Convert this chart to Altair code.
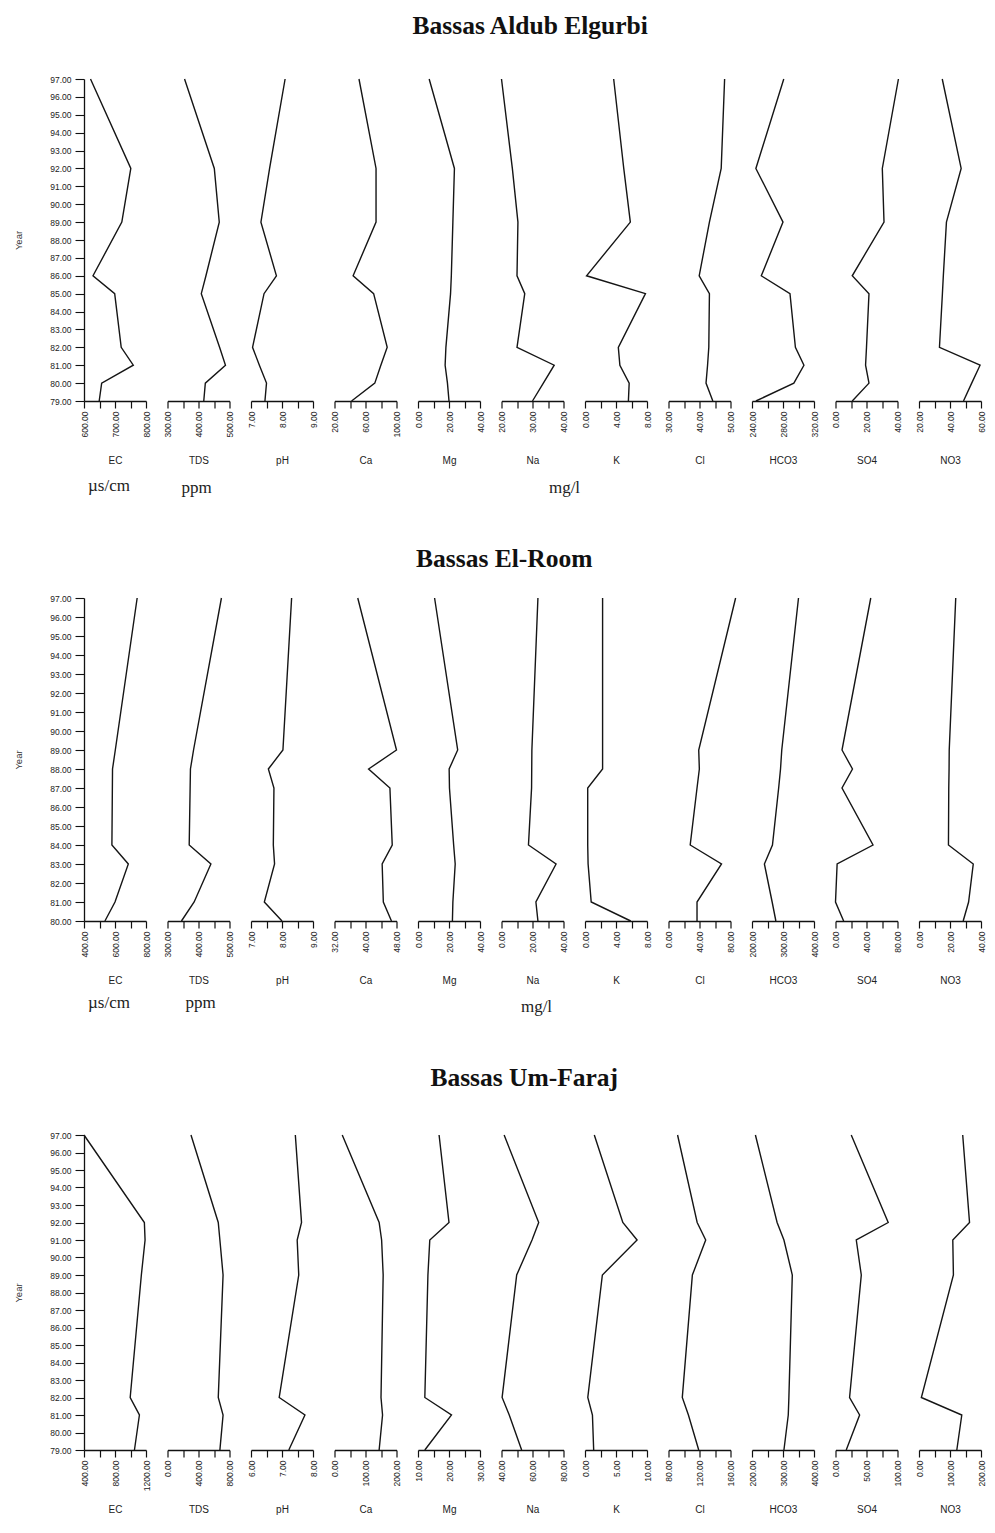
import altair as alt
import pandas as pd

PARAMS = ["EC", "TDS", "pH", "Ca", "Mg", "Na", "K", "Cl", "HCO3", "SO4", "NO3"]

# ---------------- Panel 1: Bassas Aldub Elgurbi ----------------
p1_years = [97, 92, 89, 86, 85, 82, 81, 80, 79]
p1_EC = [621, 751, 722, 629, 699, 720, 759, 657, 649]
p1_TDS = [355, 451, 467, 424, 409, 468, 487, 422, 417]
p1_pH = [8.10, 7.60, 7.32, 7.82, 7.42, 7.05, 7.27, 7.50, 7.45]
p1_Ca = [51.6, 73.6, 73.6, 44.0, 70.5, 88.0, 79.8, 72.0, 42.0]
p1_Mg = [7.2, 23.5, 22.5, 21.5, 21.0, 18.0, 17.5, 19.0, 20.0]
p1_Na = [20.0, 23.5, 25.3, 25.0, 27.5, 25.0, 37.0, 33.5, 30.0]
p1_K = [3.7, 5.0, 5.85, 0.2, 7.8, 4.3, 4.5, 5.7, 5.6]
p1_Cl = [48.1, 47.0, 43.2, 39.9, 43.2, 43.0, 42.6, 42.1, 44.3]
p1_HCO3 = [281, 245, 280, 252, 289, 296, 307, 294, 245]
p1_SO4 = [40.6, 30.2, 31.3, 10.8, 21.6, 20.0, 19.4, 21.6, 10.8]
p1_NO3 = [35.0, 47.2, 37.7, 35.7, 35.1, 33.2, 59.4, 54.0, 48.7]
p1_domains = [[600, 800], [300, 500], [7, 9], [20, 100], [0, 40], [20, 40],
              [0, 8], [30, 50], [240, 320], [0, 40], [20, 60]]

# ---------------- Panel 2: Bassas El-Room ----------------
p2_years = [97, 89, 88, 87, 84, 83, 81, 80]
p2_EC = [743, 602, 584, 583, 580, 686, 600, 535]
p2_TDS = [474, 384, 374, 373, 370, 440, 386, 345]
p2_pH = [8.31, 8.03, 7.56, 7.74, 7.72, 7.76, 7.43, 8.00]
p2_Ca = [38.0, 48.0, 40.8, 46.3, 46.9, 44.3, 44.6, 46.7]
p2_Mg = [10.7, 25.6, 20.1, 20.3, 23.0, 24.0, 22.5, 22.2]
p2_Na = [23.5, 19.6, 19.5, 19.4, 17.4, 35.2, 22.2, 23.5]
p2_K = [2.27, 2.27, 2.27, 0.35, 0.35, 0.40, 0.80, 5.90]
p2_Cl = [86.6, 39.0, 39.8, 36.8, 28.0, 68.4, 36.8, 36.8]
p2_HCO3 = [350, 296, 292, 286, 266, 240, 265, 277]
p2_SO4 = [45.5, 8.4, 21.9, 8.4, 48.4, 2.1, 0.0, 10.5]
p2_NO3 = [23.7, 19.5, 19.4, 19.2, 19.0, 35.0, 32.0, 28.5]
p2_domains = [[400, 800], [300, 500], [7, 9], [32, 48], [0, 40], [0, 40],
              [0, 8], [0, 80], [200, 400], [0, 80], [0, 40]]

# ---------------- Panel 3: Bassas Um-Faraj ----------------
p3_years = [97, 92, 91, 89, 82, 81, 79]
p3_EC = [400, 1179, 1188, 1140, 996, 1115, 1051]
p3_TDS = [303, 655, 676, 717, 655, 717, 676]
p3_pH = [7.43, 7.63, 7.49, 7.54, 6.91, 7.74, 7.22]
p3_Ca = [25, 144, 152, 157, 150, 155, 144]
p3_Mg = [16.8, 20.0, 13.8, 13.2, 12.2, 20.8, 12.2]
p3_Na = [41.7, 64.0, 59.7, 49.8, 40.4, 45.0, 53.0]
p3_K = [1.5, 6.1, 8.4, 2.8, 0.45, 1.2, 1.4]
p3_Cl = [91.7, 117.0, 128.0, 110.8, 97.8, 105.7, 119.0]
p3_HCO3 = [211, 281, 303, 330, 319, 317, 303]
p3_SO4 = [25.4, 85.0, 33.5, 41.6, 22.7, 38.9, 17.3]
p3_NO3 = [141, 163, 109, 111, 7.6, 138, 122]
p3_domains = [[400, 1200], [0, 800], [6, 8], [0, 200], [10, 30], [40, 80],
              [0, 10], [80, 160], [200, 400], [0, 100], [0, 200]]

SERIF = "Liberation Serif"
SANS = "Liberation Sans"
W = 62


def frame(years, series):
    d = {"Year": years}
    for p, s in zip(PARAMS, series):
        d[p] = s
    return pd.DataFrame(d)


def subplot(df, param, dom, height, ymin, first, units):
    lo, hi = dom
    step = (hi - lo) / 4
    ticks = [lo + i * step for i in range(5)]
    lexpr = (f"round((datum.value - ({lo})) / {step}) % 2 == 0 ? "
             f"format(datum.value, '.2f') : ''")
    xenc = alt.X(
        f"{param}:Q",
        scale=alt.Scale(domain=dom, nice=False, zero=False),
        axis=alt.Axis(values=ticks, labelExpr=lexpr, labelAngle=270,
                      labelAlign="right", labelBaseline="middle",
                      labelFontSize=8.5, labelFont=SANS, labelColor="#222",
                      labelPadding=3, labelOverlap=False, labelFlush=False,
                      tickSize=7, tickColor="#111", domainColor="#111",
                      tickWidth=1.2, domainWidth=1.3,
                      title=param, titleFont=SANS, titleFontSize=10,
                      titleFontWeight="normal", titleColor="#222",
                      titleY=59, titleBaseline="middle", grid=False),
    )
    if first:
        yaxis = alt.Axis(values=list(range(ymin, 98)), format=".2f",
                         labelFontSize=8.5, labelFont=SANS, labelColor="#222",
                         labelPadding=4, tickSize=9, tickColor="#111",
                         domainColor="#111", tickWidth=1.1, domainWidth=1.3,
                         labelOverlap=False, grid=False,
                         title="Year", titleFont=SANS, titleFontSize=9.5,
                         titleFontWeight="normal", titleColor="#333",
                         titleX=-66, titleY=height / 2,
                         titleAngle=270, titleBaseline="middle")
    else:
        yaxis = None
    yenc = alt.Y("Year:Q", scale=alt.Scale(domain=[ymin, 97], nice=False, zero=False),
                 axis=yaxis)
    line = alt.Chart(df).mark_line(color="#151515", strokeWidth=1.4).encode(
        x=xenc, y=yenc, order=alt.Order("Year:Q"))
    layers = [line]
    for text, dx, dy in units:
        t = alt.Chart(pd.DataFrame({"u": [text]})).mark_text(
            font=SERIF, fontSize=17, color="#222", baseline="middle", align="center"
        ).encode(text="u:N", x=alt.value(dx), y=alt.value(height + dy))
        layers.append(t)
    ch = alt.layer(*layers) if len(layers) > 1 else line
    return ch.properties(width=W, height=height)


def panel(title, years, series, domains, height, ymin, units_map, offset, dx):
    df = frame(years, series)
    subs = []
    for i, p in enumerate(PARAMS):
        subs.append(subplot(df, p, domains[i], height, ymin, i == 0,
                            units_map.get(p, [])))
    return alt.hconcat(*subs, spacing=21.5, bounds="flush").properties(
        title=alt.TitleParams(title, font=SERIF, fontSize=25.5, fontWeight="bold",
                              anchor="middle", color="#111", offset=offset, dx=dx))


p1 = panel("Bassas Aldub Elgurbi", p1_years,
           [p1_EC, p1_TDS, p1_pH, p1_Ca, p1_Mg, p1_Na, p1_K, p1_Cl, p1_HCO3, p1_SO4, p1_NO3],
           p1_domains, 322, 79,
           {"EC": [("\u00b5s/cm", 25, 85)], "TDS": [("ppm", 29, 87)], "Na": [("mg/l", 63, 87)]},
           36, 31)
p2 = panel("Bassas El-Room", p2_years,
           [p2_EC, p2_TDS, p2_pH, p2_Ca, p2_Mg, p2_Na, p2_K, p2_Cl, p2_HCO3, p2_SO4, p2_NO3],
           p2_domains, 323, 80,
           {"EC": [("\u00b5s/cm", 25, 82)], "TDS": [("ppm", 33, 82)], "Na": [("mg/l", 35, 86)]},
           22, 5)
p3 = panel("Bassas Um-Faraj", p3_years,
           [p3_EC, p3_TDS, p3_pH, p3_Ca, p3_Mg, p3_Na, p3_K, p3_Cl, p3_HCO3, p3_SO4, p3_NO3],
           p3_domains, 315, 79, {}, 40, 25)

chart = alt.vconcat(p1, p2, p3, spacing=50).properties(
    padding={"left": 5, "top": 5, "right": 0, "bottom": 5},
    background="white",
).configure_view(stroke=None, strokeWidth=0)

chart.save("out.html", embed_options={"renderer": "svg", "actions": False})
